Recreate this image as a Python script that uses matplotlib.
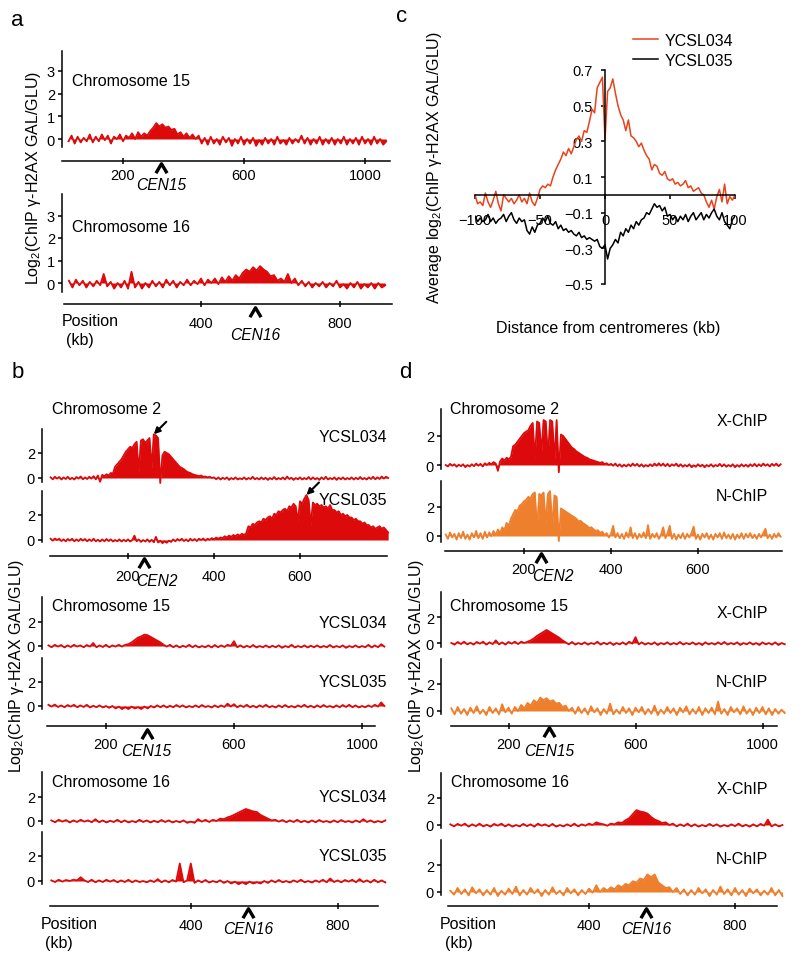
import numpy as np
import matplotlib
matplotlib.use('Agg')
import matplotlib.pyplot as plt
from matplotlib.path import Path

plt.rcParams.update({
    'font.family': ['Liberation Sans', 'DejaVu Sans'],
    'mathtext.fontset': 'custom',
    'mathtext.rm': 'Liberation Sans',
    'mathtext.it': 'Liberation Sans:italic',
    'axes.linewidth': 1.1,
    'xtick.major.width': 1.1,
    'ytick.major.width': 1.1,
})

# ---- data: log2 ratios binned along each chromosome (start kb, step kb) ----
CEN = {2: 238, 15: 327, 16: 556}
CHR2_START, CHR2_STEP = 20, 5
CHR15_START, CHR15_STEP = 20, 10
CHR16_START, CHR16_STEP = 20, 10

A_CHR15 = [
    -0.10, 0.15, -0.20, 0.10, -0.15, 0.05, -0.10, 0.20, -0.15, 0.10,
    -0.10, 0.20, -0.05, 0.15, -0.20, 0.10, 0.00, 0.20, -0.10, 0.15,
    0.05, 0.25, 0.00, 0.30, 0.10, 0.25, 0.15, 0.35, 0.50, 0.70,
    0.55, 0.65, 0.50, 0.55, 0.40, 0.45, 0.20, 0.30, 0.10, 0.25,
    0.05, 0.20, 0.00, 0.15, -0.20, 0.05, -0.25, 0.10, -0.20, 0.00,
    -0.25, 0.10, -0.15, 0.05, -0.30, 0.00, -0.20, 0.10, -0.25, 0.00,
    -0.20, 0.05, -0.30, -0.05, -0.25, 0.05, -0.20, 0.00, -0.25, 0.10,
    -0.20, -0.05, -0.25, 0.05, -0.20, 0.00, -0.15, 0.15, -0.20, 0.05,
    -0.25, 0.00, -0.20, 0.10, -0.25, 0.00, -0.20, 0.05, -0.25, 0.00,
    -0.20, 0.10, -0.25, 0.00, -0.20, 0.05, -0.25, 0.10, -0.20, 0.00,
    -0.25, 0.10, -0.20, 0.00, -0.25, -0.10]
A_CHR16 = [
    0.10, -0.20, 0.15, -0.10, 0.10, -0.20, 0.05, -0.15, 0.10, -0.10,
    0.40, -0.15, 0.05, -0.25, 0.00, -0.20, 0.10, -0.25, 0.50, -0.20,
    0.05, -0.25, 0.00, -0.20, 0.10, -0.15, 0.05, -0.20, 0.15, -0.10,
    0.10, -0.20, 0.05, -0.10, 0.15, -0.10, 0.10, -0.05, 0.20, -0.10,
    0.15, 0.00, 0.20, -0.05, 0.25, 0.05, 0.30, 0.10, 0.35, 0.20,
    0.45, 0.60, 0.50, 0.70, 0.55, 0.75, 0.60, 0.50, 0.30, 0.35,
    0.10, 0.20, 0.05, 0.40, 0.00, 0.20, -0.10, 0.10, -0.15, 0.05,
    -0.20, 0.00, -0.15, 0.05, -0.20, 0.00, -0.15, 0.10, -0.20, -0.05,
    -0.25, 0.00, -0.20, 0.05, -0.25, -0.05, -0.20, 0.00, -0.25, 0.00,
    -0.20, -0.10]

B_CHR2_034 = [
    0.05, -0.10, 0.10, -0.05, 0.08, -0.12, 0.05, -0.08, 0.10, -0.10,
    0.02, -0.12, 0.08, -0.05, 0.12, -0.10, 0.05, -0.08, 0.10, -0.05,
    0.15, -0.10, 0.20, -0.30, 0.25, 0.15, 0.30, 0.20, 0.40, 0.35,
    0.90, 1.10, 1.30, 1.50, 1.80, 2.10, 2.30, 2.50, 2.40, 2.70,
    2.90, 0.50, 3.00, 3.10, 2.80, 3.00, 3.20, 0.80, 3.50, 3.40,
    3.20, -0.40, 1.80, 2.10, 2.00, 1.90, 1.70, 1.50, 1.30, 1.10,
    0.90, 0.80, 0.70, 0.55, 0.45, 0.40, 0.30, 0.25, 0.20, 0.15,
    0.20, 0.10, 0.12, 0.05, 0.10, 0.00, 0.05, -0.10, 0.05, -0.12,
    0.02, -0.08, 0.05, -0.15, 0.00, -0.10, 0.05, -0.12, -0.02, -0.10,
    0.05, -0.12, 0.00, -0.08, 0.10, -0.10, 0.00, -0.12, 0.05, -0.10,
    0.02, -0.15, 0.00, -0.10, 0.08, -0.12, 0.00, -0.10, 0.05, -0.12,
    0.12, -0.08, 0.02, -0.15, 0.00, -0.10, 0.05, -0.12, 0.00, -0.10,
    0.08, -0.12, 0.05, -0.10, 0.00, -0.15, 0.05, -0.10, 0.10, -0.12,
    0.00, -0.10, 0.05, -0.15, 0.02, -0.10, 0.05, -0.12, 0.00, -0.10,
    0.05, -0.12, 0.02, -0.10, 0.08, -0.10, 0.00, -0.12, 0.05, -0.08,
    0.10, -0.10, 0.05, -0.08, 0.12, -0.05, 0.10, 0.00]
B_CHR2_035 = [
    0.10, -0.05, 0.12, 0.00, 0.10, -0.08, 0.05, -0.10, 0.08, -0.05,
    0.10, -0.10, 0.05, -0.08, 0.10, -0.05, 0.08, -0.10, 0.05, -0.08,
    0.10, -0.10, 0.02, -0.12, 0.05, -0.10, 0.08, -0.08, 0.05, -0.12,
    0.00, -0.10, 0.05, -0.12, 0.02, -0.10, 0.05, -0.12, 0.00, 0.35,
    -0.10, 0.05, -0.15, 0.00, -0.12, 0.05, -0.15, 0.02, -0.18, 0.25,
    -0.20, -0.05, -0.25, -0.10, -0.22, -0.05, -0.15, 0.05, -0.10, 0.08,
    -0.05, 0.10, -0.08, 0.05, -0.10, 0.10, -0.05, 0.08, -0.08, 0.10,
    0.00, 0.12, -0.05, 0.10, 0.02, 0.15, 0.05, 0.20, 0.10, 0.20,
    0.15, 0.30, 0.20, 0.35, 0.25, 0.40, 0.30, 0.45, 0.35, 0.50,
    0.40, 0.55, 1.10, 1.00, 1.30, 1.20, 1.40, 1.50, 1.40, 1.70,
    1.60, 1.80, 1.90, 1.70, 2.10, 2.00, 2.30, 2.20, 2.40, 2.50,
    2.30, 2.70, 2.60, 2.90, 2.70, 1.50, 3.10, 2.90, 3.30, 3.60,
    3.20, 1.20, 3.00, 2.80, 2.90, 2.70, 2.80, 2.60, 2.70, 2.50,
    2.80, 2.40, 2.40, 2.20, 2.30, 2.00, 2.10, 1.90, 2.00, 1.80,
    1.80, 1.60, 1.70, 1.50, 1.50, 1.30, 1.40, 1.20, 1.20, 1.00,
    1.10, 0.90, 1.00, 1.10, 0.90, 1.00, 0.80, 0.60]
B_CHR15_034 = [
    0.05, -0.10, 0.10, -0.05, 0.08, -0.12, 0.05, -0.08, 0.10, -0.05,
    0.05, -0.10, 0.08, -0.05, 0.25, -0.10, 0.05, -0.08, 0.10, -0.10,
    0.05, -0.05, 0.10, -0.05, 0.10, 0.15, 0.30, 0.50, 0.70, 0.80,
    0.95, 0.90, 0.75, 0.60, 0.45, 0.30, 0.10, -0.05, 0.10, -0.10,
    0.05, -0.12, 0.02, -0.08, 0.10, -0.10, 0.05, -0.12, 0.00, -0.10,
    0.05, -0.12, 0.08, -0.10, 0.05, -0.08, 0.10, 0.00, 0.40, -0.10,
    0.05, -0.12, 0.02, -0.10, 0.08, -0.12, 0.00, -0.10, 0.05, -0.12,
    0.02, -0.10, 0.05, -0.15, 0.00, -0.10, 0.10, -0.12, 0.00, -0.10,
    0.05, -0.12, 0.02, -0.10, 0.05, -0.12, 0.00, -0.10, 0.08, -0.12,
    0.00, -0.10, 0.05, -0.15, 0.00, -0.10, 0.05, -0.12, 0.00, -0.10,
    0.10, -0.12, 0.05, -0.10, 0.15, -0.05]
B_CHR15_035 = [
    0.10, -0.05, 0.12, -0.08, 0.05, -0.10, 0.08, -0.05, 0.10, -0.10,
    0.05, -0.08, 0.10, -0.12, 0.02, -0.10, 0.05, -0.12, 0.00, -0.15,
    0.00, -0.20, -0.05, -0.25, -0.10, -0.25, -0.05, -0.20, -0.10, -0.25,
    -0.05, -0.20, 0.00, -0.12, 0.05, -0.10, 0.05, -0.12, 0.02, -0.10,
    0.08, -0.08, 0.05, -0.12, 0.00, -0.10, 0.05, -0.10, 0.08, -0.08,
    0.00, -0.12, 0.05, -0.10, 0.05, -0.08, 0.20, -0.05, 0.15, -0.10,
    0.05, -0.08, 0.10, -0.10, 0.02, -0.12, 0.05, -0.08, 0.10, -0.10,
    0.00, -0.12, 0.05, -0.10, 0.08, -0.10, 0.00, -0.12, 0.05, -0.08,
    0.10, -0.10, 0.02, -0.12, 0.05, -0.10, 0.08, -0.08, 0.00, -0.12,
    0.05, -0.10, 0.08, -0.08, 0.10, -0.10, 0.05, -0.12, 0.00, -0.10,
    0.05, -0.08, 0.10, -0.05, 0.30, 0.00]
B_CHR16_034 = [
    0.05, -0.10, 0.10, -0.05, 0.08, -0.12, 0.05, -0.08, 0.10, -0.05,
    0.05, -0.10, 0.15, -0.10, 0.05, -0.12, 0.02, -0.08, 0.10, -0.10,
    0.05, -0.12, 0.00, -0.10, 0.10, -0.08, 0.05, -0.12, 0.02, -0.10,
    0.08, -0.08, 0.05, -0.12, 0.00, -0.10, 0.05, -0.15, -0.05, -0.15,
    0.15, -0.05, 0.10, -0.08, 0.10, 0.00, 0.20, 0.15, 0.30, 0.40,
    0.55, 0.70, 0.85, 1.00, 0.90, 0.80, 0.75, 0.50, 0.35, 0.20,
    0.05, 0.10, -0.05, 0.08, -0.10, 0.05, -0.08, 0.10, -0.10, 0.02,
    -0.12, 0.05, -0.10, 0.08, -0.08, 0.00, -0.12, 0.05, -0.10, 0.08,
    -0.08, 0.00, -0.12, 0.05, -0.10, 0.15, -0.08, 0.05, -0.12, 0.00,
    -0.10, 0.05]
B_CHR16_035 = [
    0.05, -0.08, 0.10, -0.05, 0.08, 0.00, 0.10, 0.05, 0.30, 0.05,
    -0.08, 0.10, -0.10, 0.05, -0.08, 0.10, -0.05, 0.08, -0.10, 0.05,
    -0.08, 0.10, -0.10, 0.05, -0.08, 0.00, -0.10, 0.05, -0.08, 0.15,
    -0.10, 0.05, -0.10, 0.08, -0.05, 1.40, -0.10, 0.05, 1.40, -0.15,
    0.05, -0.10, 0.08, -0.12, 0.00, -0.10, 0.05, -0.15, 0.00, -0.20,
    -0.05, -0.25, -0.10, -0.25, -0.05, -0.20, -0.10, -0.20, 0.00, -0.15,
    0.05, -0.10, 0.08, -0.10, 0.00, -0.12, 0.05, -0.08, 0.10, -0.10,
    0.00, -0.12, 0.05, -0.08, 0.10, -0.10, 0.20, -0.08, 0.05, -0.10,
    0.08, -0.05, 0.10, -0.10, 0.15, -0.08, 0.05, -0.12, 0.10, -0.10,
    0.05, -0.12]

D_CHR2_X = [
    0.00, -0.10, 0.08, -0.05, 0.05, -0.12, 0.02, -0.08, 0.05, -0.15,
    0.00, -0.10, 0.05, -0.08, 0.10, -0.05, 0.08, -0.10, 0.12, 0.00,
    0.15, 0.05, 0.20, 0.10, -0.40, 0.25, 0.45, 0.30, 0.50, 0.40,
    0.55, 1.30, 1.40, 1.60, 1.80, 2.00, 2.20, 2.30, 2.40, 2.70,
    2.90, 0.40, 3.00, 2.90, 0.80, 3.10, 3.00, 0.60, 3.10, 3.00,
    0.30, 3.10, -0.50, 2.10, 2.00, 1.80, 1.60, 1.40, 1.20, 1.10,
    0.95, 0.85, 0.75, 0.65, 0.55, 0.50, 0.40, 0.35, 0.30, 0.25,
    0.20, 0.15, 0.20, 0.05, 0.12, 0.00, 0.08, -0.05, 0.10, -0.08,
    0.05, -0.12, 0.02, -0.10, 0.05, -0.08, 0.10, -0.05, 0.08, -0.10,
    0.05, -0.12, 0.00, -0.10, 0.05, -0.08, 0.10, -0.05, 0.12, -0.05,
    0.10, -0.08, 0.08, -0.10, 0.05, -0.05, 0.10, -0.10, 0.05, -0.12,
    0.00, -0.10, 0.05, -0.15, -0.02, -0.12, 0.05, -0.10, 0.02, -0.15,
    0.00, -0.10, 0.05, -0.12, 0.00, -0.08, 0.08, -0.10, 0.05, -0.12,
    0.00, -0.10, 0.05, -0.15, 0.00, -0.12, 0.05, -0.10, 0.02, -0.12,
    0.05, -0.08, 0.08, -0.10, 0.05, -0.08, 0.10, -0.05, 0.05, -0.10,
    0.08, -0.05, 0.10, -0.08, 0.05]
D_CHR2_N = [
    0.10, -0.20, 0.25, -0.10, 0.15, -0.25, 0.20, -0.15, 0.30, -0.20,
    0.10, -0.25, 0.20, -0.10, 0.35, -0.15, 0.20, -0.20, 0.30, -0.10,
    0.25, 0.00, 0.35, 0.05, 0.45, 0.20, 0.60, 0.40, 0.90, 0.70,
    1.20, 1.50, 1.80, 1.70, 2.10, 2.20, 2.40, 2.50, 2.70, 2.60,
    2.90, 3.00, 0.50, 2.90, 2.80, 3.00, 0.80, 2.90, 3.10, 0.60,
    2.80, 2.70, -0.35, 1.90, 1.80, 1.70, 1.60, 1.50, 1.40, 1.30,
    1.20, 1.00, 1.05, 0.90, 0.80, 0.70, 0.55, 0.60, 0.45, 0.35,
    0.40, 0.20, 0.30, 0.05, 0.20, -0.10, 0.15, 0.70, -0.10, 0.20,
    -0.15, 0.15, -0.20, 0.25, -0.10, 0.60, -0.15, 0.20, -0.20, 0.15,
    -0.10, 0.25, -0.15, 0.75, -0.20, 0.15, -0.10, 0.20, -0.20, 0.10,
    0.60, -0.15, 0.20, 0.70, -0.20, 0.15, -0.25, 0.10, -0.15, 0.20,
    -0.20, 0.15, -0.10, 0.20, 0.65, -0.20, 0.10, -0.25, 0.15, -0.10,
    0.20, -0.20, 0.10, -0.25, 0.15, -0.10, 0.20, -0.20, 0.25, -0.15,
    0.10, -0.20, 0.15, -0.25, 0.10, -0.15, 0.20, -0.20, 0.15, -0.10,
    0.20, -0.15, 0.10, -0.20, 0.15, -0.10, 0.20, 0.50, -0.15, 0.10,
    -0.20, 0.15, -0.10, 0.20, -0.05]
D_CHR15_X = [
    0.00, -0.12, 0.08, -0.08, 0.10, -0.10, 0.02, -0.12, 0.08, -0.05,
    0.10, -0.12, 0.05, -0.08, 0.20, -0.10, 0.05, -0.12, 0.08, -0.05,
    0.10, -0.08, 0.10, 0.00, 0.10, 0.20, 0.35, 0.55, 0.70, 0.85,
    1.00, 0.85, 0.70, 0.55, 0.40, 0.20, 0.05, -0.10, 0.08, -0.12,
    0.00, -0.10, 0.05, -0.12, 0.00, -0.08, 0.10, -0.12, 0.02, -0.10,
    0.05, -0.15, 0.00, -0.10, 0.05, -0.12, 0.10, -0.05, 0.45, -0.10,
    0.05, -0.12, 0.00, -0.10, 0.05, -0.15, 0.00, -0.10, 0.05, -0.12,
    0.00, -0.10, 0.08, -0.12, 0.00, -0.10, 0.05, -0.12, 0.00, -0.15,
    0.05, -0.10, 0.00, -0.12, 0.05, -0.10, 0.08, -0.12, 0.00, -0.10,
    0.05, -0.15, 0.00, -0.10, 0.05, -0.12, 0.00, -0.15, 0.05, -0.10,
    0.00, -0.12, 0.05, -0.15, 0.00, -0.10]
D_CHR15_N = [
    0.20, -0.25, 0.30, -0.20, 0.15, -0.30, 0.25, -0.15, 0.35, -0.20,
    0.10, -0.30, 0.30, -0.15, 0.20, -0.25, 0.50, -0.10, 0.25, -0.20,
    0.30, 0.00, 0.45, 0.20, 0.60, 0.40, 0.80, 0.60, 1.00, 0.80,
    0.95, 0.70, 0.80, 0.55, 0.60, 0.30, 0.40, 0.00, 0.25, -0.20,
    0.30, -0.15, 0.20, -0.25, 0.35, -0.10, 0.20, -0.30, 0.15, -0.20,
    0.55, -0.25, 0.10, -0.20, 0.30, -0.15, 0.20, -0.30, 0.25, -0.10,
    0.30, -0.25, 0.15, -0.20, 0.40, -0.30, 0.10, -0.20, 0.30, -0.15,
    0.20, -0.30, 0.25, -0.10, 0.35, -0.25, 0.15, -0.20, 0.30, -0.30,
    0.20, -0.15, 0.25, -0.25, 0.70, -0.20, 0.15, -0.30, 0.30, -0.10,
    0.20, -0.25, 0.35, -0.20, 0.15, -0.30, 0.25, -0.15, 0.30, -0.25,
    0.20, -0.30, 0.15, -0.20, 0.10, -0.15]
D_CHR16_X = [
    0.05, -0.10, 0.08, -0.05, 0.10, -0.12, 0.05, -0.08, 0.10, -0.10,
    0.02, -0.12, 0.08, -0.05, 0.10, -0.10, 0.05, -0.12, 0.00, -0.10,
    0.08, -0.08, 0.05, -0.12, 0.10, -0.05, 0.05, -0.10, 0.08, -0.12,
    0.00, -0.10, 0.05, -0.08, 0.10, -0.10, 0.05, -0.05, 0.10, 0.00,
    0.20, 0.10, 0.05, -0.05, 0.10, 0.05, 0.20, 0.15, 0.35, 0.50,
    0.80, 1.10, 1.00, 0.95, 0.85, 0.60, 0.40, 0.30, 0.15, 0.20,
    0.00, 0.10, -0.10, 0.05, -0.08, 0.10, -0.10, 0.05, -0.12, 0.00,
    -0.10, 0.08, -0.08, 0.05, -0.12, 0.00, -0.10, 0.05, -0.08, 0.10,
    -0.10, 0.02, -0.12, 0.05, -0.10, 0.08, -0.05, 0.40, -0.10, 0.05,
    -0.10, 0.00]
D_CHR16_N = [
    0.10, -0.20, 0.30, -0.15, 0.20, -0.25, 0.35, -0.10, 0.20, -0.25,
    0.15, -0.20, 0.30, -0.30, 0.10, -0.20, 0.25, -0.15, 0.40, -0.25,
    0.15, -0.20, 0.30, -0.10, 0.20, -0.30, 0.15, -0.20, 0.35, -0.15,
    0.10, -0.25, 0.30, -0.10, 0.20, -0.25, 0.15, -0.15, 0.25, -0.05,
    0.50, 0.00, 0.30, 0.10, 0.35, 0.20, 0.50, 0.35, 0.60, 0.50,
    0.80, 0.70, 1.00, 0.90, 1.30, 1.10, 1.30, 0.70, 0.50, 0.30,
    0.35, 0.00, 0.30, -0.15, 0.20, -0.25, 0.15, -0.20, 0.30, -0.10,
    0.20, -0.30, 0.15, -0.20, 0.40, -0.15, 0.20, -0.25, 0.30, -0.20,
    0.15, -0.30, 0.25, -0.10, 0.20, -0.25, 0.10, -0.20, 0.30, -0.25,
    0.15, -0.30]

# panel c: average profile around centromeres
C_DIST = list(range(-100, 101, 2))
C_034 = [
    0.00, -0.05, -0.04, -0.06, 0.01, -0.04, -0.07, -0.03, 0.02, -0.05,
    -0.09, 0.00, -0.02, -0.04, -0.02, -0.05, -0.03, 0.00, -0.04, -0.02,
    -0.05, 0.01, -0.04, -0.06, -0.02, 0.03, 0.05, 0.04, 0.06, 0.05,
    0.10, 0.14, 0.17, 0.20, 0.24, 0.22, 0.26, 0.23, 0.27, 0.31,
    0.33, 0.30, 0.36, 0.35, 0.41, 0.48, 0.46, 0.60, 0.63, 0.66,
    0.31, 0.58, 0.60, 0.65, 0.57, 0.50, 0.45, 0.42, 0.36, 0.42,
    0.33, 0.32, 0.30, 0.27, 0.29, 0.25, 0.22, 0.20, 0.14, 0.17,
    0.16, 0.12, 0.11, 0.13, 0.09, 0.08, 0.09, 0.06, 0.07, 0.05,
    0.06, 0.08, 0.04, 0.05, 0.02, 0.03, 0.04, 0.01, 0.00, -0.04,
    -0.07, -0.03, -0.08, -0.01, 0.03, -0.04, 0.06, -0.05, -0.01, -0.03,
    0.00]
C_035 = [
    -0.12, -0.15, -0.13, -0.15, -0.14, -0.11, -0.15, -0.13, -0.16, -0.14,
    -0.13, -0.11, -0.15, -0.12, -0.10, -0.14, -0.16, -0.13, -0.15, -0.14,
    -0.20, -0.22, -0.18, -0.21, -0.17, -0.16, -0.13, -0.15, -0.12, -0.16,
    -0.17, -0.15, -0.19, -0.17, -0.20, -0.19, -0.21, -0.20, -0.22, -0.23,
    -0.21, -0.24, -0.23, -0.25, -0.24, -0.25, -0.26, -0.25, -0.29, -0.30,
    -0.28, -0.36, -0.30, -0.28, -0.25, -0.27, -0.21, -0.23, -0.19, -0.21,
    -0.17, -0.19, -0.15, -0.17, -0.14, -0.13, -0.10, -0.11, -0.08, -0.05,
    -0.07, -0.06, -0.09, -0.07, -0.12, -0.11, -0.14, -0.12, -0.15, -0.12,
    -0.14, -0.11, -0.15, -0.12, -0.10, -0.14, -0.12, -0.10, -0.14, -0.11,
    -0.13, -0.10, -0.08, -0.12, -0.14, -0.10, -0.15, -0.17, -0.19, -0.14,
    -0.12]

W, H = 800, 962
RED = '#dc0a0a'
ORANGE = '#ee7f2d'
C_RED = '#e8431c'
LAB = 11.5
TICK = 10.5
CHEV = Path([(-1, -0.85), (0, 0.85), (1, -0.85)], [Path.MOVETO, Path.LINETO, Path.LINETO])

fig = plt.figure(figsize=(W / 100, H / 100), dpi=100)


def ftext(x, y, s, **kw):
    kw.setdefault('fontsize', LAB)
    kw.setdefault('va', 'center')
    fig.text(x / W, 1 - y / H, s, **kw)


def track(left, right, top, bottom, zero, unit, kb0, kbpx, yticks=(0, 2)):
    ax = fig.add_axes([left / W, 1 - bottom / H, (right - left) / W, (bottom - top) / H])
    ax.set_xlim((left - kb0) / kbpx, (right - kb0) / kbpx)
    ax.set_ylim((zero - bottom) / unit, (zero - top) / unit)
    ax.patch.set_visible(False)
    for side in ('top', 'right', 'bottom'):
        ax.spines[side].set_visible(False)
    ax.set_xticks([])
    ax.set_yticks(yticks)
    ax.tick_params(axis='y', direction='out', length=3, pad=2, labelsize=TICK)
    return ax


def draw(ax, start, step, vals, color):
    x = start + step * np.arange(len(vals))
    y = np.asarray(vals)
    ax.fill_between(x, 0, y, color=color, lw=0, clip_on=False)
    ax.plot(x, y, color=color, lw=1.3, clip_on=False)
    return x, y


def xaxis(ax, line_y, bottom, px_lo, px_hi, kb0, kbpx, ticks, pad):
    sp = ax.spines['bottom']
    sp.set_visible(True)
    sp.set_position(('outward', (line_y - bottom) * 0.72))
    sp.set_bounds((px_lo - kb0) / kbpx, (px_hi - kb0) / kbpx)
    ax.set_xticks(ticks)
    ax.tick_params(axis='x', direction='inout', length=5, pad=pad, labelsize=TICK)


def centromere(ax, chrom, zero, unit, chev_y, label_y, kbpx, dx=0):
    c = CEN[chrom]
    ax.plot([c], [(zero - chev_y) / unit], marker=CHEV, ms=8, mew=2.4,
            color='k', fillstyle='none', clip_on=False)
    ax.text(c + dx / kbpx, (zero - label_y) / unit, f'CEN{chrom}', style='italic',
            fontsize=11.2, ha='center', va='center', clip_on=False)


def arrow_to_peak(ax, x, y):
    i = int(np.argmax(y))
    ax.annotate('', xy=(x[i], y[i]), xytext=(9, 9), textcoords='offset points',
                arrowprops=dict(arrowstyle='-|>', color='k', lw=1.5, mutation_scale=9,
                                shrinkA=0, shrinkB=0), annotation_clip=False)


YL = 'Log$_2$(ChIP \u03b3-H2AX GAL/GLU)'

# ---------------- panel a ----------------
ftext(17, 20, 'a', fontsize=16, ha='center')
ax = track(62, 392, 52, 148, 140, 22.7, 62.5, 0.3025, (0, 1, 2, 3))
draw(ax, CHR15_START, CHR15_STEP, A_CHR15, RED)
xaxis(ax, 162, 148, 62, 390, 62.5, 0.3025, (200, 600, 1000), 2.4)
centromere(ax, 15, 140, 22.7, 169, 186, 0.3025)
ftext(72, 81, 'Chromosome 15')

ax = track(62, 392, 195, 293, 284, 22.5, 62, 0.3475, (0, 1, 2, 3))
draw(ax, CHR16_START, CHR16_STEP, A_CHR16, RED)
xaxis(ax, 305, 293, 64, 392, 62, 0.3475, (400, 800), 6)
centromere(ax, 16, 284, 22.5, 313, 335, 0.3475)
ftext(72, 228, 'Chromosome 16')
ftext(62, 322, 'Position')
ftext(66, 341, '(kb)')
ftext(34, 178, YL, rotation=90, ha='center')

# ---------------- panel c ----------------
ftext(402, 16, 'c', fontsize=16, ha='center')
axc = fig.add_axes([475 / W, 1 - 285 / H, 260 / W, 214 / H])
axc.set_xlim(-100, 100)
axc.set_ylim(-0.5, 0.7)
axc.patch.set_visible(False)
axc.plot(C_DIST, C_034, color=C_RED, lw=1.1, label='YCSL034')
axc.plot(C_DIST, C_035, color='k', lw=1.1, label='YCSL035')
axc.spines['left'].set_position(('data', 0))
axc.spines['bottom'].set_position(('data', 0))
axc.spines['top'].set_visible(False)
axc.spines['right'].set_visible(False)
axc.set_yticks([0.7, 0.5, 0.3, 0.1, -0.1, -0.3, -0.5])
axc.set_xticks([-100, -50, 0, 50, 100])
axc.tick_params(axis='y', direction='out', length=3, pad=5.5, labelsize=TICK)
axc.tick_params(axis='x', direction='out', length=3, pad=10, labelsize=TICK)
axc.legend(loc='upper left', bbox_to_anchor=(633 / W, 1 - 34 / H), bbox_transform=fig.transFigure,
           frameon=False, fontsize=LAB, handlelength=1.55, handletextpad=0.45,
           labelspacing=0.3, borderpad=0, borderaxespad=0)
ftext(435, 168, 'Average log$_2$(ChIP \u03b3-H2AX GAL/GLU)', rotation=90, ha='center')
ftext(608, 328, 'Distance from centromeres (kb)', ha='center')

# ---------------- panel b ----------------
ftext(18, 372, 'b', fontsize=16, ha='center')
ax = track(42, 390, 430, 483, 479, 12.5, 42, 0.43)
x, y = draw(ax, CHR2_START, CHR2_STEP, B_CHR2_034, RED)
arrow_to_peak(ax, x, y)
ax = track(42, 390, 492, 543, 541, 12.5, 42, 0.43)
x, y = draw(ax, CHR2_START, CHR2_STEP, B_CHR2_035, RED)
arrow_to_peak(ax, x, y)
xaxis(ax, 557, 543, 50, 387, 42, 0.43, (200, 400, 600), 6.7)
centromere(ax, 2, 541, 12.5, 564, 582, 0.43, dx=13)
ftext(52, 410, 'Chromosome 2')
ftext(387, 437, 'YCSL034', ha='right')
ftext(387, 501, 'YCSL035', ha='right')

ax = track(42, 390, 598, 650, 647, 12, 42, 0.32)
draw(ax, CHR15_START, CHR15_STEP, B_CHR15_034, RED)
ax = track(42, 390, 659, 710, 707, 12, 42, 0.32)
draw(ax, CHR15_START, CHR15_STEP, B_CHR15_035, RED)
xaxis(ax, 727, 710, 47, 375, 42, 0.32, (200, 600, 1000), 5.3)
centromere(ax, 15, 707, 12, 735, 752, 0.32)
ftext(52, 607, 'Chromosome 15')
ftext(387, 624, 'YCSL034', ha='right')
ftext(387, 683, 'YCSL035', ha='right')

ax = track(42, 390, 773, 825, 822, 12, 44, 0.367)
draw(ax, CHR16_START, CHR16_STEP, B_CHR16_034, RED)
ax = track(42, 390, 833, 885, 882, 12.5, 44, 0.367)
draw(ax, CHR16_START, CHR16_STEP, B_CHR16_035, RED)
xaxis(ax, 907, 885, 50, 378, 44, 0.367, (400, 800), 6)
centromere(ax, 16, 882, 12.5, 914, 930, 0.367)
ftext(52, 783, 'Chromosome 16')
ftext(387, 798, 'YCSL034', ha='right')
ftext(387, 857, 'YCSL035', ha='right')
ftext(41, 925, 'Position')
ftext(45, 944, '(kb)')
ftext(17, 666, YL, rotation=90, ha='center')

# ---------------- panel d ----------------
ftext(405, 372, 'd', fontsize=16, ha='center')
ax = track(441, 785, 410, 470, 466, 14.5, 437, 0.435)
draw(ax, CHR2_START, CHR2_STEP, D_CHR2_X, RED)
ax = track(441, 785, 482, 543, 537, 14.5, 437, 0.435)
draw(ax, CHR2_START, CHR2_STEP, D_CHR2_N, ORANGE)
xaxis(ax, 552, 543, 445, 782, 437, 0.435, (200, 400, 600), 5.3)
centromere(ax, 2, 537, 14.5, 559, 577, 0.435, dx=12)
ftext(450, 410, 'Chromosome 2')
ftext(768, 422, 'X-ChIP', ha='right')
ftext(768, 497, 'N-ChIP', ha='right')

ax = track(441, 785, 593, 648, 644, 13, 445, 0.3175)
draw(ax, CHR15_START, CHR15_STEP, D_CHR15_X, RED)
ax = track(441, 785, 660, 715, 712, 13.5, 445, 0.3175)
draw(ax, CHR15_START, CHR15_STEP, D_CHR15_N, ORANGE)
xaxis(ax, 727, 715, 451, 777, 445, 0.3175, (200, 600, 1000), 5.3)
centromere(ax, 15, 712, 13.5, 733, 752, 0.3175)
ftext(450, 607, 'Chromosome 15')
ftext(768, 613, 'X-ChIP', ha='right')
ftext(768, 683, 'N-ChIP', ha='right')

ax = track(441, 785, 774, 829, 826, 13.5, 443, 0.365)
draw(ax, CHR16_START, CHR16_STEP, D_CHR16_X, RED)
ax = track(441, 785, 841, 896, 893, 13.5, 443, 0.365)
draw(ax, CHR16_START, CHR16_STEP, D_CHR16_N, ORANGE)
xaxis(ax, 907, 896, 448, 777, 443, 0.365, (400, 800), 6)
centromere(ax, 16, 893, 13.5, 914, 930, 0.365)
ftext(451, 783, 'Chromosome 16')
ftext(768, 790, 'X-ChIP', ha='right')
ftext(768, 860, 'N-ChIP', ha='right')
ftext(440, 925, 'Position')
ftext(445, 944, '(kb)')
ftext(416, 666, YL, rotation=90, ha='center')

fig.savefig('out.png', dpi=100)
